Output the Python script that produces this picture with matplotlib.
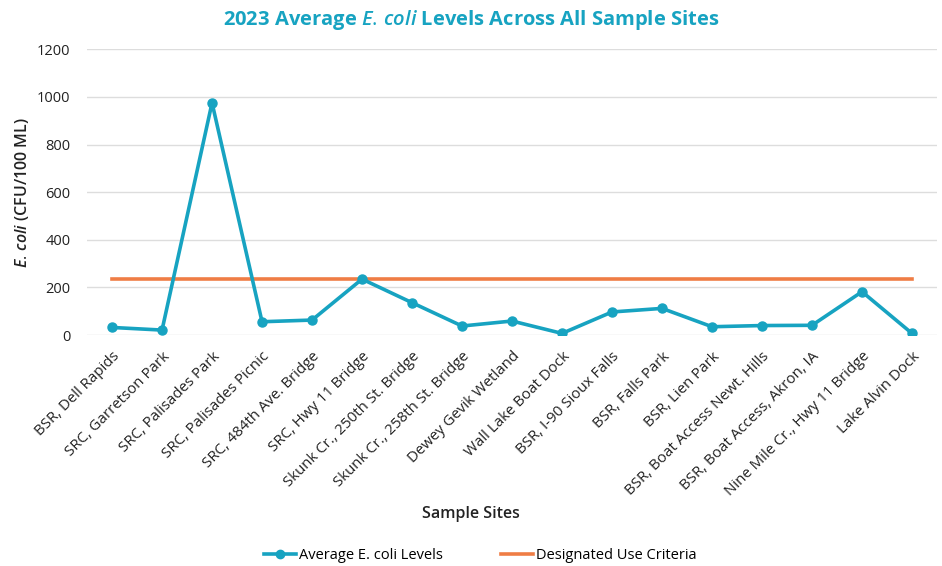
import matplotlib
matplotlib.use('Agg')
import matplotlib.pyplot as plt
from matplotlib.lines import Line2D

sites = ['BSR, Dell Rapids', 'SRC, Garretson Park', 'SRC, Palisades Park',
         'SRC, Palisades Picnic', 'SRC, 484th Ave. Bridge', 'SRC, Hwy 11 Bridge',
         'Skunk Cr., 250th St. Bridge', 'Skunk Cr., 258th St. Bridge',
         'Dewey Gevik Wetland', 'Wall Lake Boat Dock', 'BSR, I-90 Sioux Falls',
         'BSR, Falls Park', 'BSR, Lien Park', 'BSR, Boat Access Newt. Hills',
         'BSR, Boat Access, Akron, IA', 'Nine Mile Cr., Hwy 11 Bridge',
         'Lake Alvin Dock']
ecoli = [32, 21, 975, 56, 63, 235, 136, 38, 59, 7, 97, 112, 35, 40, 41, 182, 7]
criteria = [235] * len(sites)

teal = '#17A3C1'
orange = '#EF7D45'

plt.rcParams['font.family'] = ['Open Sans', 'DejaVu Sans']
plt.rcParams['mathtext.fontset'] = 'custom'
plt.rcParams['mathtext.it'] = 'Open Sans:italic:semibold'
plt.rcParams['mathtext.rm'] = 'Open Sans'

fig = plt.figure(figsize=(9.42, 5.66), dpi=100)
ax = fig.add_axes([0.0924, 0.408, 0.9023, 0.505])

x = list(range(len(sites)))
ax.plot(x, ecoli, color=teal, lw=2.6, marker='o', ms=6.5, zorder=3)
ax.plot(x, criteria, color=orange, lw=2.6, zorder=2)

ax.set_xlim(-0.5, len(sites) - 0.5)
ax.set_ylim(0, 1200)
ax.set_yticks(range(0, 1201, 200))
ax.grid(axis='y', color='#dddddd', lw=1)
ax.set_axisbelow(True)
for s in ax.spines.values():
    s.set_visible(False)
ax.tick_params(axis='both', length=0, labelsize=10.5, colors='#222222')
ax.tick_params(axis='y', pad=12)
ax.set_xticks(x)
ax.set_xticklabels(sites, rotation=45, ha='right', rotation_mode='anchor', fontsize=10.8)
ax.tick_params(axis='x', pad=10)

ax.set_ylabel(r'$\it{E.\,coli}$ (CFU/100 ML)', fontsize=11.5, fontweight='semibold',
              labelpad=4, color='#222222')
fig.text(0.5, 0.085, 'Sample Sites', ha='center', fontsize=11.5, fontweight='semibold', color='#222222')

fig.text(0.5, 0.955, r'2023 Average $\it{E.\,coli}$ Levels Across All Sample Sites',
         ha='center', fontsize=14.5, fontweight='bold', color=teal)

handles = [Line2D([], [], color=teal, lw=2.6, marker='o', ms=6),
           Line2D([], [], color=orange, lw=2.6)]
fig.legend(handles, ['Average E. coli Levels', 'Designated Use Criteria'],
           loc='center', bbox_to_anchor=(0.51, 0.018), ncol=2, frameon=False,
           fontsize=10.5, handlelength=2.2, handletextpad=0.2, columnspacing=4)

fig.savefig('out.png', dpi=100)
